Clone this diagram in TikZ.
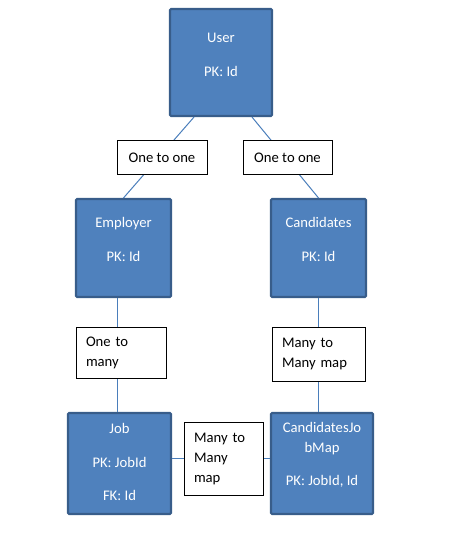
\documentclass[tikz,border=0pt]{standalone}
\usepackage{fontspec}
\setmainfont{Carlito}
\usetikzlibrary{calc}
\definecolor{entityFill}{HTML}{4F81BD}
\definecolor{entityLine}{HTML}{385D8A}
\definecolor{linkLine}{HTML}{4A7EBB}
\tikzstyle{entityBox}=[shape = rectangle, draw = entityLine, line width = 1.6pt, fill = entityFill, rounded corners = 0.8pt, inner sep = 0pt]
\tikzstyle{entityText}=[align = center, text = white, inner sep = 0pt, font = \fontsize{11}{15}\selectfont]
\tikzstyle{relBox}=[shape = rectangle, draw = black, line width = 0.75pt, fill = white, inner sep = 0pt, font = \fontsize{11}{15}\selectfont]

\begin{document}
\begin{tikzpicture}[x = 0.75pt, y = -0.75pt]
\tikzstyle{linkStyle}=[draw = linkLine, line width = 0.75pt]
\useasboundingbox (0,0) rectangle (465,538);
\node[entityBox, minimum width = 102*0.75pt, minimum height = 107*0.75pt] (user) at (221,62.5) {};
\node[entityBox, minimum width = 95*0.75pt, minimum height = 98*0.75pt] (employer) at (123.5,248) {};
\node[entityBox, minimum width = 95*0.75pt, minimum height = 98*0.75pt] (candidates) at (318.5,248) {};
\node[entityBox, minimum width = 103*0.75pt, minimum height = 101*0.75pt] (job) at (119.5,463.5) {};
\node[entityBox, minimum width = 102*0.75pt, minimum height = 101*0.75pt] (cjmap) at (322,463.5) {};
\node[entityText] (userText) at (221,55) {User\\[10pt]PK: Id};
\node[entityText] (employerText) at (123.5,239.5) {Employer\\[10pt]PK: Id};
\node[entityText] (candidatesText) at (318.5,239.5) {Candidates\\[10pt]PK: Id};
\node[entityText] (jobText) at (119.5,462) {Job\\[10pt]PK: JobId\\[10pt]FK: Id};
\node[entityText] (cjmapText) at (322,455) {CandidatesJo\\bMap\\[10pt]PK: JobId, Id};
\coordinate (userL) at ($(user.south)+(-27,0)$);
\coordinate (userR) at ($(user.south)+(31,0)$);
\coordinate (employerB) at ($(employer.south)+(-6.5,0)$);
\coordinate (jobR) at ($(job.east)+(0,-5.5)$);
\draw[linkStyle] (userL) -- (employer.north);
\draw[linkStyle] (userR) -- (candidates.north);
\draw[linkStyle] (employerB) -- (employerB |- job.north);
\draw[linkStyle] (candidates.south) -- (candidates.south |- cjmap.north);
\draw[linkStyle] (jobR) -- (jobR -| cjmap.west);
\node[relBox, minimum width = 90*0.75pt, minimum height = 34*0.75pt] (oneOneL) at (162,158) {One to one};
\node[relBox, minimum width = 89*0.75pt, minimum height = 34*0.75pt] (oneOneR) at (287.5,158) {One to one};
\node[relBox, minimum width = 90*0.75pt, minimum height = 51*0.75pt, text width = 70*0.75pt, align = left] (oneMany) at (121,352.5) {One to\\many};
\node[relBox, minimum width = 93*0.75pt, minimum height = 54*0.75pt, text width = 73*0.75pt, align = left] (manyManyR) at (318.5,354) {Many to\\Many map};
\node[relBox, minimum width = 79*0.75pt, minimum height = 73*0.75pt, text width = 59*0.75pt, align = left] (manyManyM) at (223.5,458.5) {Many to\\Many\\map};
\end{tikzpicture}
\end{document}
